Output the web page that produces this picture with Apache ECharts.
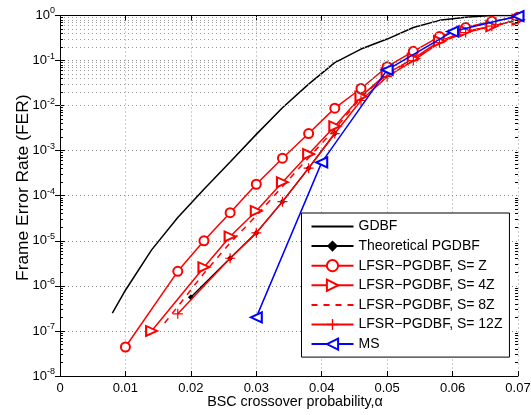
<!DOCTYPE html>
<html><head><meta charset="utf-8">
<script src="https://cdn.jsdelivr.net/npm/echarts@6/dist/echarts.min.js"></script>
<style>html,body{margin:0;padding:0;background:#fff}#c{width:531px;height:415px}</style>
</head><body><div id="c"></div>
<script>
const seriesNames = ['GDBF','Theoretical PGDBF','LFSR\u2212PGDBF, S= Z','LFSR\u2212PGDBF, S= 4Z','LFSR\u2212PGDBF, S= 8Z','LFSR\u2212PGDBF, S= 12Z','MS'];
const xGDBF = [0.008,0.010,0.014,0.018,0.022,0.026,0.030,0.034,0.038,0.042,0.046,0.050,0.054,0.058,0.062,0.066,0.070];
const yGDBF = [2.5e-7,8e-7,6.3e-6,3.3e-5,1.4e-4,5.6e-4,2.3e-3,9e-3,0.03,0.09,0.18,0.30,0.54,0.78,0.92,1.0,1.0];
const xTheo = [0.020,0.026,0.030,0.034,0.038,0.042];
const yTheo = [5.6e-7,4.1e-6,1.5e-5,7.4e-5,4.1e-4,2.4e-3];
const xZ = [0.010,0.018,0.022,0.026,0.030,0.034,0.038,0.042,0.046,0.050,0.054,0.058,0.062,0.066,0.070];
const yZ = [4.4e-8,2.1e-6,1.0e-5,4.2e-5,1.8e-4,6.8e-4,2.4e-3,8.8e-3,0.024,0.073,0.16,0.34,0.54,0.75,0.92];
const x4Z = [0.014,0.022,0.026,0.030,0.034,0.038,0.042,0.046,0.050,0.054,0.058,0.062,0.066,0.070];
const y4Z = [1.0e-7,2.6e-6,1.25e-5,4.6e-5,2.0e-4,8.4e-4,3.5e-3,0.016,0.052,0.11,0.27,0.45,0.58,0.80];
const x8Z = [0.016,0.022,0.026,0.030,0.034,0.038,0.042,0.046,0.050,0.054,0.058,0.062,0.066,0.070];
const y8Z = [1.5e-7,1.9e-6,9e-6,3.6e-5,1.6e-4,7e-4,3e-3,0.015,0.05,0.10,0.26,0.43,0.57,0.80];
const x12Z = [0.018,0.026,0.030,0.034,0.038,0.042,0.046,0.050,0.054,0.058,0.062,0.066,0.070];
const y12Z = [2.4e-7,4.1e-6,1.5e-5,7.4e-5,4.1e-4,2.4e-3,0.013,0.044,0.10,0.25,0.42,0.58,0.80];
const xMS = [0.030,0.040,0.050,0.060,0.070];
const yMS = [2.0e-7,5.5e-4,0.062,0.44,0.97];
const xTicks = [0,0.01,0.02,0.03,0.04,0.05,0.06,0.07];

const zip = (xs, ys) => xs.map((x,i)=>[x, ys[i]]);
const FONT = 'Liberation Sans, Arial, Helvetica, sans-serif';
const plusPath = 'path://M4.4,0H5.6V4.4H10V5.6H5.6V10H4.4V5.6H0V4.4H4.4Z';

// minor log gridlines / ticks
const minorLines = [], minorTicksL = [], minorTicksR = [];
for (let e = -8; e < 0; e++) {
  for (let k = 2; k <= 9; k++) {
    const v = k * Math.pow(10, e);
    minorLines.push({yAxis: v});
    minorTicksL.push([{coord:[0, v]}, {coord:[0.00045, v]}]);
    minorTicksR.push([{coord:[0.07, v]}, {coord:[0.06955, v]}]);
  }
}

const chart = echarts.init(document.getElementById('c'), null, {renderer:'canvas'});
const common = {type:'line', smooth:false, animation:false};
const option = {
  animation:false,
  textStyle:{fontFamily:FONT},
  grid:{left:60, right:13, top:15.5, bottom:39, containLabel:false, outerBoundsMode:'none'},
  xAxis:[{
    type:'value', min:0, max:0.07, interval:0.01,
    name:'BSC crossover probability,\u03b1', nameLocation:'middle', nameGap:19, nameMoveOverlap:false,
    nameTextStyle:{fontSize:14.3, color:'#000', fontFamily:FONT, padding:[0,0,0,12]},
    axisLine:{show:true, lineStyle:{color:'#000', width:1}},
    axisTick:{show:true, inside:true, length:5, lineStyle:{color:'#000'}},
    axisLabel:{fontSize:13, color:'#000', margin:6, fontFamily:FONT,
      formatter:v=>{ const r = Math.round(v*100)/100; return r===0?'0':r.toFixed(2);} },
    splitLine:{show:true, lineStyle:{type:[1,3], color:'#999', width:1}}
  },{
    type:'value', min:0, max:0.07, interval:0.01, position:'top',
    axisLine:{show:true, lineStyle:{color:'#000', width:1}},
    axisTick:{show:true, inside:true, length:5, lineStyle:{color:'#000'}},
    axisLabel:{show:false}, splitLine:{show:false}
  }],
  yAxis:[{
    type:'log', logBase:10, min:1e-8, max:1, splitNumber:8,
    name:'Frame Error Rate (FER)', nameLocation:'middle', nameGap:28, nameRotate:90, nameMoveOverlap:false,
    nameTextStyle:{fontSize:17.4, color:'#000', fontFamily:FONT, padding:[0,0,0,16]},
    axisLine:{show:true, lineStyle:{color:'#000', width:1}},
    axisTick:{show:true, inside:true, length:5, lineStyle:{color:'#000'}},
    axisLabel:{margin:5, color:'#000',
      formatter:v=>'{b|10}{s|'+Math.round(Math.log10(v))+'}',
      rich:{b:{fontSize:13, fontFamily:FONT, color:'#000'},
            s:{fontSize:9, fontFamily:FONT, color:'#000', padding:[0,0,9,0]}}},
    splitLine:{show:true, lineStyle:{type:[1,3], color:'#888', width:1}}
  },{
    type:'log', logBase:10, min:1e-8, max:1, splitNumber:8, position:'right',
    axisLine:{show:true, lineStyle:{color:'#000', width:1}},
    axisTick:{show:true, inside:true, length:5, lineStyle:{color:'#000'}},
    axisLabel:{show:false}, splitLine:{show:false}
  }],
  legend:{
    show:true, orient:'vertical', left:301.5, top:213,
    data:seriesNames.map((n,i)=> (i===0||i===4) ? {name:n, itemStyle:{opacity:0}} : {name:n}),
    backgroundColor:'#fff', borderColor:'#000', borderWidth:1, borderRadius:0,
    padding:[6.5,7,6,9], itemWidth:42, itemHeight:14, itemGap:5.6,
    textStyle:{fontSize:14, color:'#000', fontFamily:FONT}, selectedMode:false
  },
  series:[
    {name:'grid', type:'line', data:[], silent:true, animation:false,
     markLine:{silent:true, symbol:'none', animation:false, label:{show:false},
       lineStyle:{type:[1,3], color:'#999', width:1},
       data:minorLines}},
    {name:'ticks', type:'line', data:[], silent:true, animation:false,
     markLine:{silent:true, symbol:'none', animation:false, label:{show:false},
       lineStyle:{type:'solid', color:'#000', width:1},
       data:minorTicksL.concat(minorTicksR)}},
    Object.assign({}, common, {name:seriesNames[0], data:zip(xGDBF,yGDBF), symbol:'none',
      itemStyle:{color:'#000'}, lineStyle:{width:1.5, color:'#000'}}),
    Object.assign({}, common, {name:seriesNames[1], data:zip(xTheo,yTheo), symbol:'diamond', symbolSize:6,
      itemStyle:{color:'#000'}, lineStyle:{width:1.5, color:'#000'}, z:2}),
    Object.assign({}, common, {name:seriesNames[2], data:zip(xZ,yZ), symbol:'emptyCircle', symbolSize:9,
      itemStyle:{color:'#f00', borderWidth:1.3}, lineStyle:{width:1.5, color:'#f00'}, z:3}),
    Object.assign({}, common, {name:seriesNames[3], data:zip(x4Z,y4Z), symbol:'emptyTriangle', symbolSize:[10,11], symbolRotate:-90,
      itemStyle:{color:'#f00', borderWidth:1.3}, lineStyle:{width:1.5, color:'#f00'}, z:3}),
    Object.assign({}, common, {name:seriesNames[4], data:zip(x8Z,y8Z), symbol:'none',
      itemStyle:{color:'#f00'}, lineStyle:{width:1.5, color:'#f00', type:[6,6]}, z:3}),
    Object.assign({}, common, {name:seriesNames[5], data:zip(x12Z,y12Z), symbol:plusPath, symbolSize:10,
      itemStyle:{color:'#f00'}, lineStyle:{width:1.5, color:'#f00'}, z:3}),
    Object.assign({}, common, {name:seriesNames[6], data:zip(xMS,yMS), symbol:'emptyTriangle', symbolSize:[10,11], symbolRotate:90,
      itemStyle:{color:'#00f', borderWidth:1.3}, lineStyle:{width:1.5, color:'#00f'}, z:5})
  ]
};
chart.setOption(option);
</script></body></html>
